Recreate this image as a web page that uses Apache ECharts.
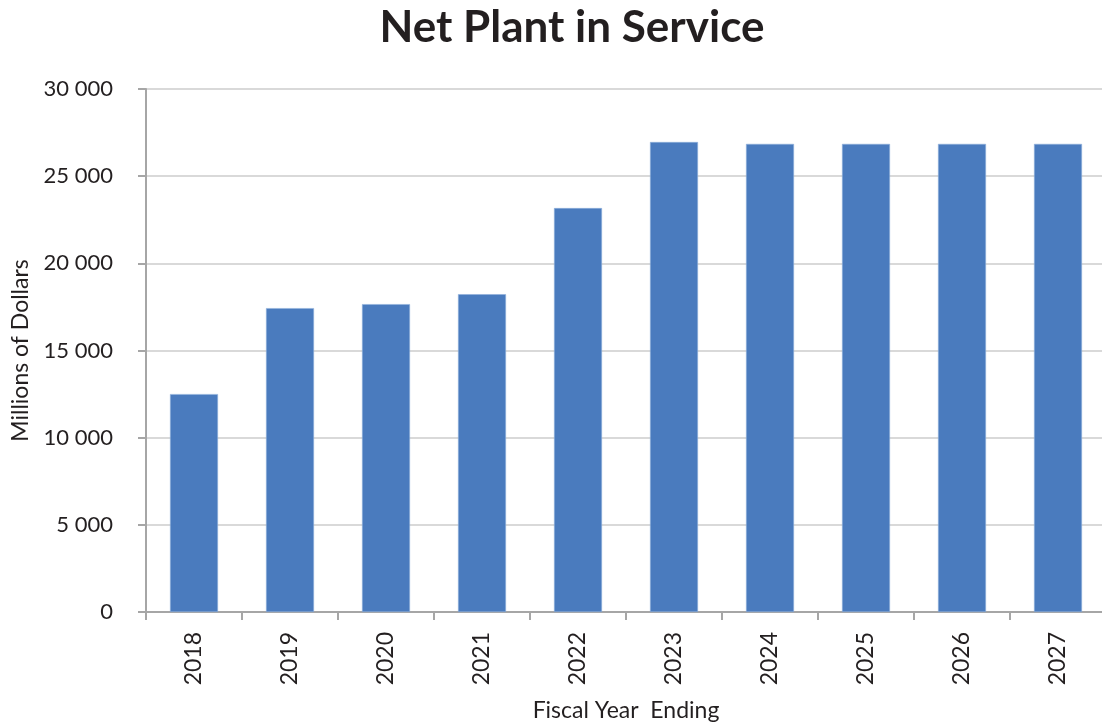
<!DOCTYPE html>
<html>
<head>
<meta charset="utf-8">
<script src="https://cdn.jsdelivr.net/npm/echarts@6/dist/echarts.min.js"></script>
<style>
  html, body { margin: 0; padding: 0; background: #ffffff; }
  #chart { width: 1102px; height: 728px; }
</style>
</head>
<body>
<div id="chart"></div>
<script>
// Fiscal years and net plant in service (millions of dollars)
const years = ['2018', '2019', '2020', '2021', '2022', '2023', '2024', '2025', '2026', '2027'];
const netPlant = [12500, 17430, 17660, 18230, 23170, 26960, 26850, 26850, 26850, 26850];
const yTicks = [0, 5000, 10000, 15000, 20000, 25000, 30000];

const fontFamily = 'Lato, "Open Sans", sans-serif';
const textColor = '#231f20';

// Space as thousands separator, e.g. 25 000
function fmt(v) {
  return String(v).replace(/\B(?=(\d{3})+(?!\d))/g, ' ');
}

const chart = echarts.init(document.getElementById('chart'), null, { renderer: 'canvas' });
chart.setOption({
  animation: false,
  backgroundColor: '#ffffff',
  title: {
    text: 'Net Plant in Service',
    left: 567,
    top: 1,
    textAlign: 'center',
    textStyle: { fontFamily, fontSize: 44, fontWeight: 'bold', color: textColor }
  },
  grid: { left: 146, right: -4, top: 89, bottom: 116, containLabel: false, outerBoundsMode: 'none' },
  xAxis: {
    type: 'category',
    data: years,
    name: 'Fiscal Year  Ending',
    nameLocation: 'middle',
    nameGap: 87,
    nameTextStyle: { fontFamily, fontSize: 23, color: textColor },
    axisLine: { lineStyle: { color: '#a6a6a6', width: 2 } },
    axisTick: { show: true, length: 8, lineStyle: { color: '#a6a6a6', width: 2 } },
    axisLabel: { rotate: 90, margin: 20, fontFamily, fontSize: 23, color: textColor }
  },
  yAxis: {
    type: 'value',
    min: yTicks[0],
    max: yTicks[yTicks.length - 1],
    interval: yTicks[1] - yTicks[0],
    name: 'Millions of Dollars',
    nameLocation: 'middle',
    nameGap: 114,
    nameTextStyle: { fontFamily, fontSize: 23, color: textColor },
    axisLine: { show: true, lineStyle: { color: '#a6a6a6', width: 2 } },
    axisTick: { show: true, length: 8, lineStyle: { color: '#a6a6a6', width: 2 } },
    axisLabel: { margin: 33, fontFamily, fontSize: 22, color: textColor, formatter: fmt },
    splitLine: { show: true, lineStyle: { color: '#d9d9d9', width: 2 } }
  },
  series: [{
    type: 'bar',
    data: netPlant,
    barCategoryGap: '50%',
    itemStyle: { color: '#4a7bbe', borderColor: '#8fb0dc', borderWidth: 0.6 }
  }]
});
</script>
</body>
</html>
